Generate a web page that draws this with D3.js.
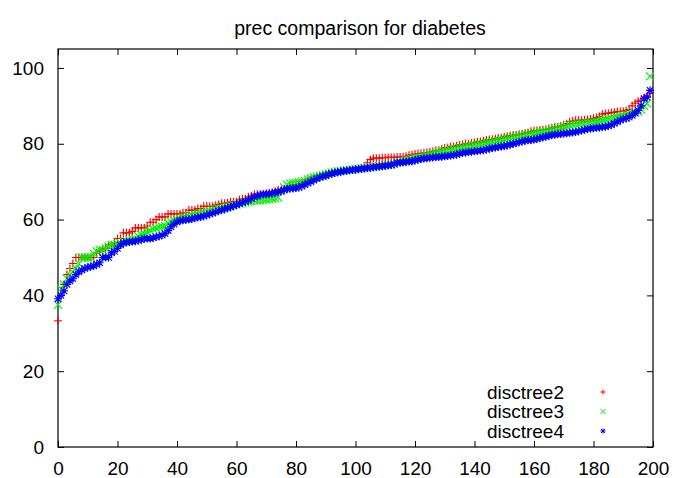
<!DOCTYPE html>
<html>
<head>
<meta charset="utf-8">
<style>
  body { margin: 0; background: #fff; }
  svg { display: block; font-family: "Liberation Sans", Arial, sans-serif; }
</style>
</head>
<body>
<div class="chartArea"></div>
<script src="https://cdn.jsdelivr.net/npm/d3@7"></script>
<script>
  // sorted precision values per run (x = rank 0..199)
  const disctree2 = [
    33.3, 40.0, 42.9, 45.5, 47.1, 48.4, 50.0, 50.0, 50.0, 50.0,
    50.0, 50.0, 50.0, 51.2, 51.6, 52.0, 52.4, 53.3, 53.3, 53.8,
    55.0, 55.0, 56.5, 56.5, 56.5, 56.9, 57.8, 57.8, 57.8, 57.8,
    58.3, 59.3, 59.3, 60.0, 60.7, 60.7, 60.7, 61.5, 61.5, 61.5,
    61.5, 61.5, 61.8, 61.8, 62.5, 62.5, 62.5, 62.9, 62.9, 63.5,
    63.5, 63.5, 63.5, 63.8, 64.0, 64.3, 64.3, 64.4, 64.7, 64.7,
    64.7, 65.2, 65.5, 65.5, 66.0, 66.2, 66.7, 66.7, 66.7, 66.7,
    66.9, 67.0, 67.2, 67.5, 67.9, 67.9, 68.2, 68.4, 68.8, 69.0,
    69.2, 69.4, 69.7, 70.0, 70.4, 70.6, 70.8, 71.1, 71.4, 71.7,
    71.9, 72.2, 72.4, 72.6, 72.7, 72.9, 73.0, 73.0, 73.1, 73.2,
    73.3, 73.4, 73.6, 73.7, 75.0, 75.8, 76.2, 76.2, 76.2, 76.3,
    76.3, 76.4, 76.4, 76.4, 76.5, 76.5, 76.6, 76.7, 77.0, 77.1,
    77.3, 77.4, 77.5, 77.6, 77.7, 77.8, 78.0, 78.2, 78.3, 78.6,
    78.9, 79.0, 79.2, 79.3, 79.5, 79.7, 79.8, 80.0, 80.0, 80.2,
    80.3, 80.5, 80.6, 80.8, 81.0, 81.1, 81.2, 81.3, 81.5, 81.6,
    81.8, 82.0, 82.1, 82.3, 82.3, 82.5, 82.6, 82.8, 83.0, 83.3,
    83.4, 83.5, 83.6, 83.7, 83.8, 84.0, 84.2, 84.4, 84.5, 84.7,
    85.0, 85.3, 85.8, 86.0, 86.2, 86.2, 86.2, 86.3, 86.4, 86.5,
    86.7, 86.9, 87.2, 87.8, 88.0, 88.0, 88.2, 88.3, 88.5, 88.5,
    88.6, 88.8, 89.0, 90.0, 90.7, 91.2, 91.5, 92.0, 92.4, 93.3
  ];
  const disctree3 = [
    37.5, 41.7, 42.9, 44.4, 45.5, 46.2, 47.1, 48.4, 50.0, 50.0,
    50.0, 50.0, 51.0, 51.6, 52.0, 52.0, 52.4, 52.9, 53.3, 53.3,
    53.6, 53.8, 54.2, 54.5, 54.5, 54.8, 55.0, 55.6, 56.0, 56.3,
    56.7, 57.1, 57.5, 57.7, 58.0, 58.1, 58.3, 59.1, 59.4, 59.7,
    60.0, 60.3, 60.6, 60.7, 60.9, 61.1, 61.3, 61.5, 61.7, 61.9,
    62.1, 62.3, 62.5, 62.7, 62.9, 63.0, 63.2, 63.4, 63.6, 63.8,
    64.0, 64.2, 64.3, 64.5, 64.7, 64.9, 65.0, 65.0, 65.1, 65.2,
    65.3, 65.4, 65.5, 65.6, 65.8, 67.5, 68.5, 69.2, 69.5, 69.6,
    69.7, 69.8, 70.0, 70.2, 70.6, 70.9, 71.1, 71.3, 71.5, 71.7,
    71.9, 72.2, 72.4, 72.6, 72.7, 72.8, 72.9, 73.0, 73.1, 73.2,
    73.3, 73.4, 73.5, 73.6, 73.7, 73.8, 73.9, 74.0, 74.1, 74.2,
    74.3, 74.4, 74.5, 74.7, 75.0, 75.2, 75.4, 75.6, 75.8, 76.0,
    76.2, 76.4, 76.5, 76.7, 76.9, 77.1, 77.3, 77.5, 77.7, 77.9,
    78.1, 78.3, 78.4, 78.6, 78.7, 78.9, 79.0, 79.2, 79.3, 79.4,
    79.6, 79.7, 79.9, 80.0, 80.2, 80.4, 80.5, 80.7, 80.8, 81.0,
    81.1, 81.3, 81.5, 81.7, 81.8, 82.0, 82.1, 82.3, 82.4, 82.6,
    82.7, 82.9, 83.0, 83.2, 83.3, 83.4, 83.6, 83.8, 84.0, 84.2,
    84.4, 84.6, 84.8, 85.0, 85.1, 85.2, 85.3, 85.4, 85.5, 85.6,
    85.7, 85.8, 86.0, 86.2, 86.4, 86.5, 86.7, 86.9, 87.0, 87.2,
    87.4, 87.6, 87.8, 88.0, 88.2, 88.4, 89.0, 90.0, 90.6, 97.8
  ];
  const disctree4 = [
    39.1, 40.0, 41.2, 42.9, 43.8, 44.4, 45.5, 46.2, 46.7, 47.1,
    47.4, 47.6, 47.8, 48.2, 48.6, 50.0, 50.0, 50.0, 51.2, 51.6,
    52.4, 53.3, 53.8, 54.0, 54.1, 54.2, 54.3, 54.5, 54.7, 55.0,
    55.0, 55.0, 55.2, 55.4, 55.6, 55.9, 56.3, 57.1, 58.1, 58.8,
    59.4, 59.7, 59.8, 60.0, 60.0, 60.2, 60.4, 60.6, 60.7, 60.9,
    61.2, 61.5, 61.7, 62.0, 62.3, 62.5, 62.8, 63.0, 63.3, 63.6,
    63.9, 64.2, 64.5, 64.8, 65.1, 65.6, 65.9, 66.2, 66.5, 66.7,
    66.7, 66.8, 66.9, 67.1, 67.3, 67.5, 67.8, 68.0, 68.2, 68.2,
    68.3, 68.5, 68.8, 69.2, 69.6, 70.0, 70.4, 70.8, 71.1, 71.4,
    71.6, 71.9, 72.1, 72.3, 72.5, 72.6, 72.8, 72.9, 73.0, 73.1,
    73.2, 73.3, 73.4, 73.5, 73.6, 73.7, 73.8, 73.9, 74.0, 74.1,
    74.2, 74.3, 74.4, 74.6, 75.0, 75.0, 75.1, 75.2, 75.3, 75.4,
    75.6, 75.8, 76.0, 76.1, 76.2, 76.3, 76.4, 76.5, 76.5, 76.6,
    76.7, 76.8, 76.9, 77.0, 77.2, 77.4, 77.6, 77.7, 77.8, 77.9,
    78.0, 78.1, 78.2, 78.3, 78.5, 78.7, 78.9, 79.0, 79.2, 79.3,
    79.4, 79.6, 79.8, 80.0, 80.2, 80.4, 80.6, 80.8, 80.9, 81.0,
    81.1, 81.3, 81.5, 81.7, 81.9, 82.1, 82.3, 82.4, 82.5, 82.6,
    82.7, 82.8, 82.9, 83.0, 83.1, 83.3, 83.5, 83.7, 83.9, 84.0,
    84.1, 84.2, 84.3, 84.4, 84.5, 84.7, 85.0, 85.4, 85.8, 86.2,
    86.5, 86.7, 87.0, 87.5, 88.1, 88.8, 90.0, 91.9, 92.3, 94.1
  ];

  const seriesNames = ["disctree2", "disctree3", "disctree4"];
  const seriesValues = [disctree2, disctree3, disctree4];
  const xTicks = [0, 20, 40, 60, 80, 100, 120, 140, 160, 180, 200];
  const yTicks = [0, 20, 40, 60, 80, 100];

  const colors = ["#ff0000", "#00ee00", "#0000ff"];
  // gnuplot point types: plus, cross, star
  const plus = r => `M${-r},0H${r}M0,${-r}V${r}`;
  const cross = r => `M${-r},${-r}L${r},${r}M${-r},${r}L${r},${-r}`;
  const shapes = [plus, cross, r => plus(r) + cross(r * 0.8)];

  const width = 691, height = 478;
  const plotLeft = 58, plotRight = 653, plotTop = 49, plotBottom = 447;
  const fontSize = 19;

  const svg = d3.select(".chartArea").append("svg")
    .attr("width", width)
    .attr("height", height)
    .style("font-size", fontSize + "px");

  svg.append("rect").attr("width", width).attr("height", height).attr("fill", "#fff");

  const x = d3.scaleLinear().domain([0, 200]).range([plotLeft, plotRight]);
  const y = d3.scaleLinear().domain([0, 105]).range([plotBottom, plotTop]);

  // axes with inward ticks, mirrored on top and right
  const styleAxis = g => {
    g.select(".domain").remove();
    g.selectAll("line").attr("stroke", "#000");
    g.selectAll("text").attr("fill", "#000").style("font-size", fontSize + "px")
      .style("font-family", "'Liberation Sans', Arial, sans-serif");
  };
  svg.append("g").attr("transform", `translate(0,${plotBottom})`)
    .call(d3.axisBottom(x).tickValues(xTicks).tickSize(-6).tickPadding(14.5))
    .call(styleAxis);
  svg.append("g").attr("transform", `translate(0,${plotTop})`)
    .call(d3.axisTop(x).tickValues(xTicks).tickSize(-6).tickFormat(""))
    .call(styleAxis);
  svg.append("g").attr("transform", `translate(${plotLeft},0)`)
    .call(d3.axisLeft(y).tickValues(yTicks).tickSize(-6).tickPadding(14))
    .call(styleAxis);
  svg.append("g").attr("transform", `translate(${plotRight},0)`)
    .call(d3.axisRight(y).tickValues(yTicks).tickSize(-6).tickFormat(""))
    .call(styleAxis);

  svg.append("rect")
    .attr("x", plotLeft).attr("y", plotTop)
    .attr("width", plotRight - plotLeft).attr("height", plotBottom - plotTop)
    .attr("fill", "none").attr("stroke", "#000").attr("stroke-width", 1.2);

  // points
  seriesValues.forEach((vals, s) => {
    svg.append("g")
      .selectAll("path")
      .data(vals)
      .enter()
      .append("path")
      .attr("transform", (d, i) => `translate(${x(i)},${y(d)})`)
      .attr("d", shapes[s](4))
      .attr("fill", "none")
      .attr("stroke", colors[s])
      .attr("stroke-width", 1.15);
  });

  // title
  svg.append("text")
    .attr("x", 360).attr("y", 35)
    .attr("text-anchor", "middle")
    .style("font-size", "19.5px")
    .text("prec comparison for diabetes");

  // legend
  const legend = svg.append("g");
  seriesNames.forEach((name, s) => {
    const ly = 392 + s * 19.5;
    legend.append("text")
      .attr("x", 564).attr("y", ly).attr("dy", "0.35em")
      .attr("text-anchor", "end")
      .text(name);
    legend.append("path")
      .attr("transform", `translate(603,${ly})`)
      .attr("d", shapes[s](2.5))
      .attr("fill", "none")
      .attr("stroke", colors[s]);
  });
</script>
</body>
</html>
